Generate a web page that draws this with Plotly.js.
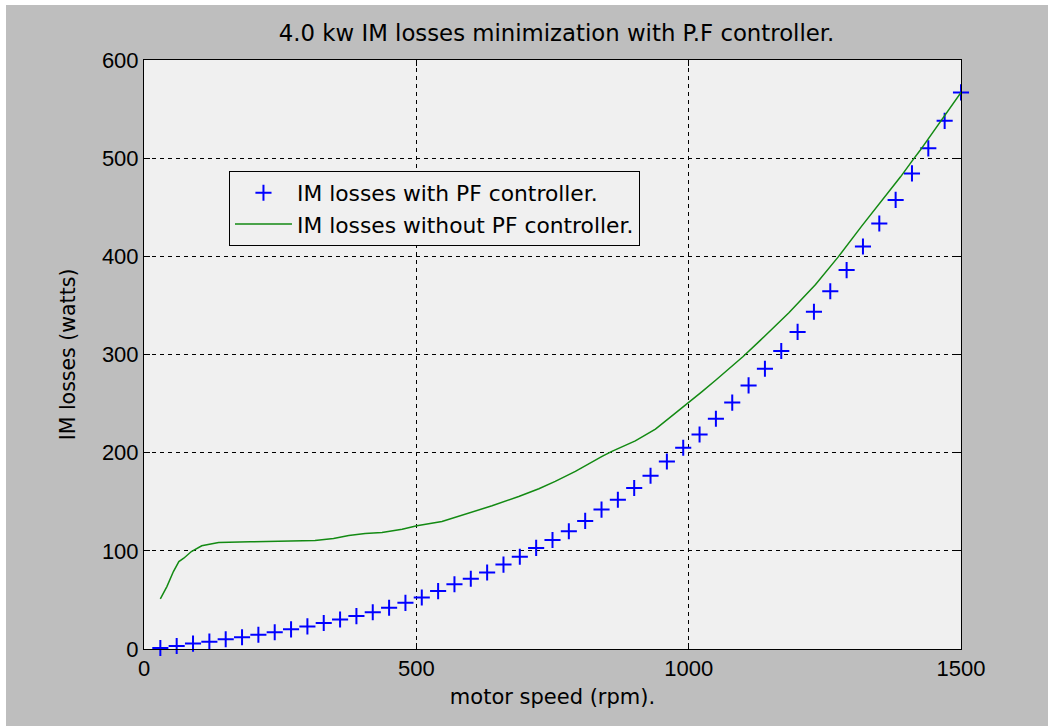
<!DOCTYPE html>
<html>
<head>
<meta charset="utf-8">
<script src="https://cdn.plot.ly/plotly-3.0.1.min.js"></script>
<style>
  html, body { margin: 0; padding: 0; background: #ffffff; }
  #frame { position: absolute; left: 0; top: 0; width: 1048px; height: 726px; background: #ffffff; }
  #chart { position: absolute; left: 6px; top: 5px; width: 1042px; height: 721px; }
</style>
</head>
<body>
<div id="frame"><div id="chart"></div></div>
<script>
// Motor speed samples (rpm) for the controlled drive
const speedPF = [
  30, 60, 90, 120, 150, 180, 210, 240, 270, 300,
  330, 360, 390, 420, 450, 480, 510, 540, 570, 600,
  630, 660, 690, 720, 750, 780, 810, 840, 870, 900,
  930, 960, 990, 1020, 1050, 1080, 1110, 1140, 1170, 1200,
  1230, 1260, 1290, 1320, 1350, 1380, 1410, 1440, 1470, 1500
];
// IM losses with PF controller (watts)
const lossPF = [
  1, 3, 5.5, 7.5, 10, 12, 14.5, 17, 20, 23,
  26.5, 30, 33.5, 37.5, 42, 47, 52.5, 59, 66, 71.5,
  78, 86, 94, 103, 111, 120, 130.5, 142, 152, 164,
  176.5, 191, 205, 218.5, 234.5, 251, 268.5, 285.5, 303.5, 323,
  343.5, 364.5, 386, 410, 433.5, 457.5, 484.5, 510, 538, 567
];

// Motor speed samples (rpm) for the uncontrolled drive
const speedNoPF = [
  30, 42, 54, 64, 73, 87, 106, 119, 137, 195,
  314, 348, 376, 406, 437, 474, 501, 547, 596, 639,
  688, 725, 755, 792, 841, 859, 902, 939, 975, 1000,
  1024, 1050, 1075, 1100, 1130, 1184, 1233, 1275, 1318, 1361,
  1389, 1410, 1425, 1500
];
// IM losses without PF controller (watts)
const lossNoPF = [
  51, 63.6, 78.9, 89.1, 92.5, 99.3, 105.1, 106.8, 108.5, 109.2,
  110.5, 112.6, 115.6, 117.7, 118.7, 122.1, 125.6, 129.9, 138.5, 145.9,
  155.4, 163.3, 170.7, 180.9, 196.2, 201.3, 212, 224, 240, 251,
  262, 274, 286, 298, 313.6, 342.5, 371.4, 399.7, 431, 461,
  481, 497, 508, 567
];

const xTicks = [0, 500, 1000, 1500];
const yTicks = [0, 100, 200, 300, 400, 500, 600];

const TICK_FONT = 'Liberation Sans, Arial, sans-serif';
const TEXT_FONT = 'DejaVu Sans, Verdana, sans-serif';

const traces = [
  {
    x: speedPF, y: lossPF,
    name: 'IM losses with PF controller.',
    mode: 'markers', type: 'scatter', cliponaxis: false,
    marker: { symbol: 'cross-thin-open', size: 11.5, color: '#0000ff',
              line: { color: '#0000ff', width: 2 } }
  },
  {
    x: speedNoPF, y: lossNoPF,
    name: 'IM losses without PF controller.',
    mode: 'lines', type: 'scatter',
    line: { color: '#138a13', width: 1.5 }
  }
];

const axisCommon = {
  showline: true, linecolor: '#000000', linewidth: 1, mirror: 'ticks',
  ticks: 'inside', ticklen: 6, tickcolor: '#000000', tickwidth: 1,
  showgrid: true, gridcolor: '#000000', gridwidth: 1, griddash: '4px,4px',
  zeroline: false,
  tickfont: { family: TICK_FONT, size: 22, color: '#000000' }
};

const layout = {
  width: 1042, height: 721,
  paper_bgcolor: '#bebebe', plot_bgcolor: '#f0f0f0',
  margin: { l: 138, r: 87, t: 55, b: 77 },
  font: { family: TEXT_FONT, color: '#000000' },
  title: {
    text: '4.0 kw IM losses minimization with P.F controller.',
    font: { family: TEXT_FONT, size: 22.8, color: '#000000' },
    x: 0.505, xref: 'paper', xanchor: 'center',
    y: 1 - 28 / 721, yref: 'container', yanchor: 'middle'
  },
  xaxis: Object.assign({}, axisCommon, {
    range: [0, 1500], tickvals: xTicks, ticktext: xTicks.map(String),
    title: { text: 'motor speed (rpm).', standoff: 8,
             font: { family: TEXT_FONT, size: 21, color: '#000000' } }
  }),
  yaxis: Object.assign({}, axisCommon, {
    range: [0, 600], tickvals: yTicks, ticktext: yTicks.map(String),
    title: { text: 'IM losses (watts)', standoff: 20,
             font: { family: TEXT_FONT, size: 20.5, color: '#000000' } }
  }),
  showlegend: true,
  legend: {
    x: 0.104, y: 0.8115, xanchor: 'left', yanchor: 'top',
    bgcolor: '#f0f0f0', bordercolor: '#000000', borderwidth: 1,
    font: { family: TEXT_FONT, size: 21.8, color: '#000000' },
    itemwidth: 57, tracegroupgap: 0
  }
};

Plotly.newPlot('chart', traces, layout, { displayModeBar: false, staticPlot: true });
</script>
</body>
</html>
